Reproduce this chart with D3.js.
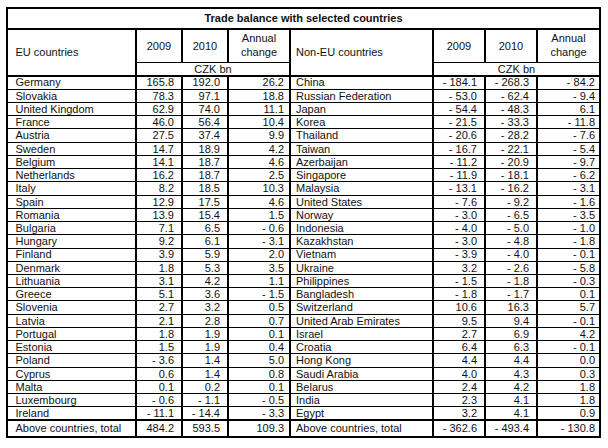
<!DOCTYPE html>
<html><head><meta charset="utf-8">
<script src="https://cdn.jsdelivr.net/npm/d3@7"></script>
<style>body{margin:0;background:#fff}svg{display:block}</style>
</head><body>
<script>
const title = "Trade balance with selected countries";
const unitLabel = "CZK bn";
const headerYears = ["2009", "2010"];
const headerChange = ["Annual", "change"];
const euHeader = "EU countries";
const nonEuHeader = "Non-EU countries";
const totalLabel = "Above countries, total";

const euCountries = ["Germany","Slovakia","United Kingdom","France","Austria","Sweden","Belgium","Netherlands","Italy","Spain","Romania","Bulgaria","Hungary","Finland","Denmark","Lithuania","Greece","Slovenia","Latvia","Portugal","Estonia","Poland","Cyprus","Malta","Luxembourg","Ireland"];
const eu2009 = [165.8,78.3,62.9,46.0,27.5,14.7,14.1,16.2,8.2,12.9,13.9,7.1,9.2,3.9,1.8,3.1,5.1,2.7,2.1,1.8,1.5,-3.6,0.6,0.1,-0.6,-11.1];
const eu2010 = [192.0,97.1,74.0,56.4,37.4,18.9,18.7,18.7,18.5,17.5,15.4,6.5,6.1,5.9,5.3,4.2,3.6,3.2,2.8,1.9,1.9,1.4,1.4,0.2,-1.1,-14.4];
const euChange = [26.2,18.8,11.1,10.4,9.9,4.2,4.6,2.5,10.3,4.6,1.5,-0.6,-3.1,2.0,3.5,1.1,-1.5,0.5,0.7,0.1,0.4,5.0,0.8,0.1,-0.5,-3.3];
const euTotal = [484.2, 593.5, 109.3];

const nonEuCountries = ["China","Russian Federation","Japan","Korea","Thailand","Taiwan","Azerbaijan","Singapore","Malaysia","United States","Norway","Indonesia","Kazakhstan","Vietnam","Ukraine","Philippines","Bangladesh","Switzerland","United Arab Emirates","Israel","Croatia","Hong Kong","Saudi Arabia","Belarus","India","Egypt"];
const nonEu2009 = [-184.1,-53.0,-54.4,-21.5,-20.6,-16.7,-11.2,-11.9,-13.1,-7.6,-3.0,-4.0,-3.0,-3.9,3.2,-1.5,-1.8,10.6,9.5,2.7,6.4,4.4,4.0,2.4,2.3,3.2];
const nonEu2010 = [-268.3,-62.4,-48.3,-33.3,-28.2,-22.1,-20.9,-18.1,-16.2,-9.2,-6.5,-5.0,-4.8,-4.0,-2.6,-1.8,-1.7,16.3,9.4,6.9,6.3,4.4,4.3,4.2,4.1,4.1];
const nonEuChange = [-84.2,-9.4,6.1,-11.8,-7.6,-5.4,-9.7,-6.2,-3.1,-1.6,-3.5,-1.0,-1.8,-0.1,-5.8,-0.3,0.1,5.7,-0.1,4.2,-0.1,0.0,0.3,1.8,1.8,0.9];
const nonEuTotal = [-362.6, -493.4, -130.8];

const W = 608, H = 448;
const fmt = v => (v < 0 ? "- " + Math.abs(v).toFixed(1) : v.toFixed(1));
const FONT = "Liberation Sans, Arial, sans-serif";
const FS = 11;
const INK = "#111";

const svg = d3.select("body").append("svg").attr("width", W).attr("height", H);
svg.append("rect").attr("width", W).attr("height", H).attr("fill", "#fff");

// Layout geometry
const L = 7, R = 600, T = 8, B = 437;
const titleBottom = 29, headBottom = 62, unitBottom = 76;
const nRows = euCountries.length;
const y = d3.scaleLinear().domain([0, nRows]).range([unitBottom, 420]);
const rowH = y(1) - y(0);

const blocks = [
  {edges: [L, 136, 182, 228, 290], head: euHeader, names: euCountries, cols: [eu2009, eu2010, euChange], total: euTotal, pad: [8, 8, 6], namePad: 8.5},
  {edges: [290, 433, 485, 537, R], head: nonEuHeader, names: nonEuCountries, cols: [nonEu2009, nonEu2010, nonEuChange], total: nonEuTotal, pad: [8, 8, 5], namePad: 6}
];

const gl = svg.append("g");
const g = svg.append("g");
const text = (x, yy, s, anchor, weight) => g.append("text")
  .attr("x", x).attr("y", yy).attr("dy", "0.35em")
  .attr("text-anchor", anchor || "start")
  .attr("font-family", FONT).attr("font-size", FS)
  .attr("font-weight", weight || "normal").attr("fill", INK).text(s);

text((L + R) / 2, (T + titleBottom) / 2, title, "middle", "bold");

blocks.forEach(b => {
  const e = b.edges;
  text(e[0] + b.namePad, (titleBottom + unitBottom) / 2, b.head);
  headerYears.forEach((yr, k) => text((e[k + 1] + e[k + 2]) / 2, (titleBottom + headBottom) / 2 + 0.5, yr, "middle"));
  const cx = (e[3] + e[4]) / 2;
  text(cx, 38.5, headerChange[0], "middle");
  text(cx, 52, headerChange[1], "middle");
  text((e[1] + e[4]) / 2, (headBottom + unitBottom) / 2 + 0.5, unitLabel, "middle");

  b.names.forEach((nm, i) => {
    const cy = y(i) + rowH / 2;
    text(e[0] + b.namePad, cy, nm);
    b.cols.forEach((col, k) => text(e[k + 2] - b.pad[k], cy, fmt(col[i]), "end"));
  });
  const ty = (y(nRows) + B) / 2;
  text(e[0] + b.namePad, ty, totalLabel);
  b.total.forEach((v, k) => text(e[k + 2] - b.pad[k], ty, fmt(v), "end"));
});

const line = (x1, y1, x2, y2, w) => gl.append("line")
  .attr("x1", x1).attr("y1", y1).attr("x2", x2).attr("y2", y2)
  .attr("stroke", "#000").attr("stroke-width", w).attr("shape-rendering", "crispEdges");

d3.range(1, nRows).forEach(i => line(L, y(i), R, y(i), 1));
line(L, titleBottom, R, titleBottom, 2);
line(L, unitBottom, R, unitBottom, 2);
line(L, y(nRows), R, y(nRows), 2);
blocks.forEach(b => {
  const e = b.edges;
  line(e[1], headBottom, e[4], headBottom, 1);
  line(e[1], titleBottom, e[1], B, 2);
  [2, 3].forEach(k => {
    line(e[k], titleBottom, e[k], headBottom, 2);
    line(e[k], unitBottom, e[k], B, 2);
  });
});
line(290, titleBottom, 290, B, 2);
gl.append("rect").attr("x", L).attr("y", T).attr("width", R - L).attr("height", B - T)
  .attr("fill", "none").attr("stroke", "#000").attr("stroke-width", 2);
</script>
</body></html>
